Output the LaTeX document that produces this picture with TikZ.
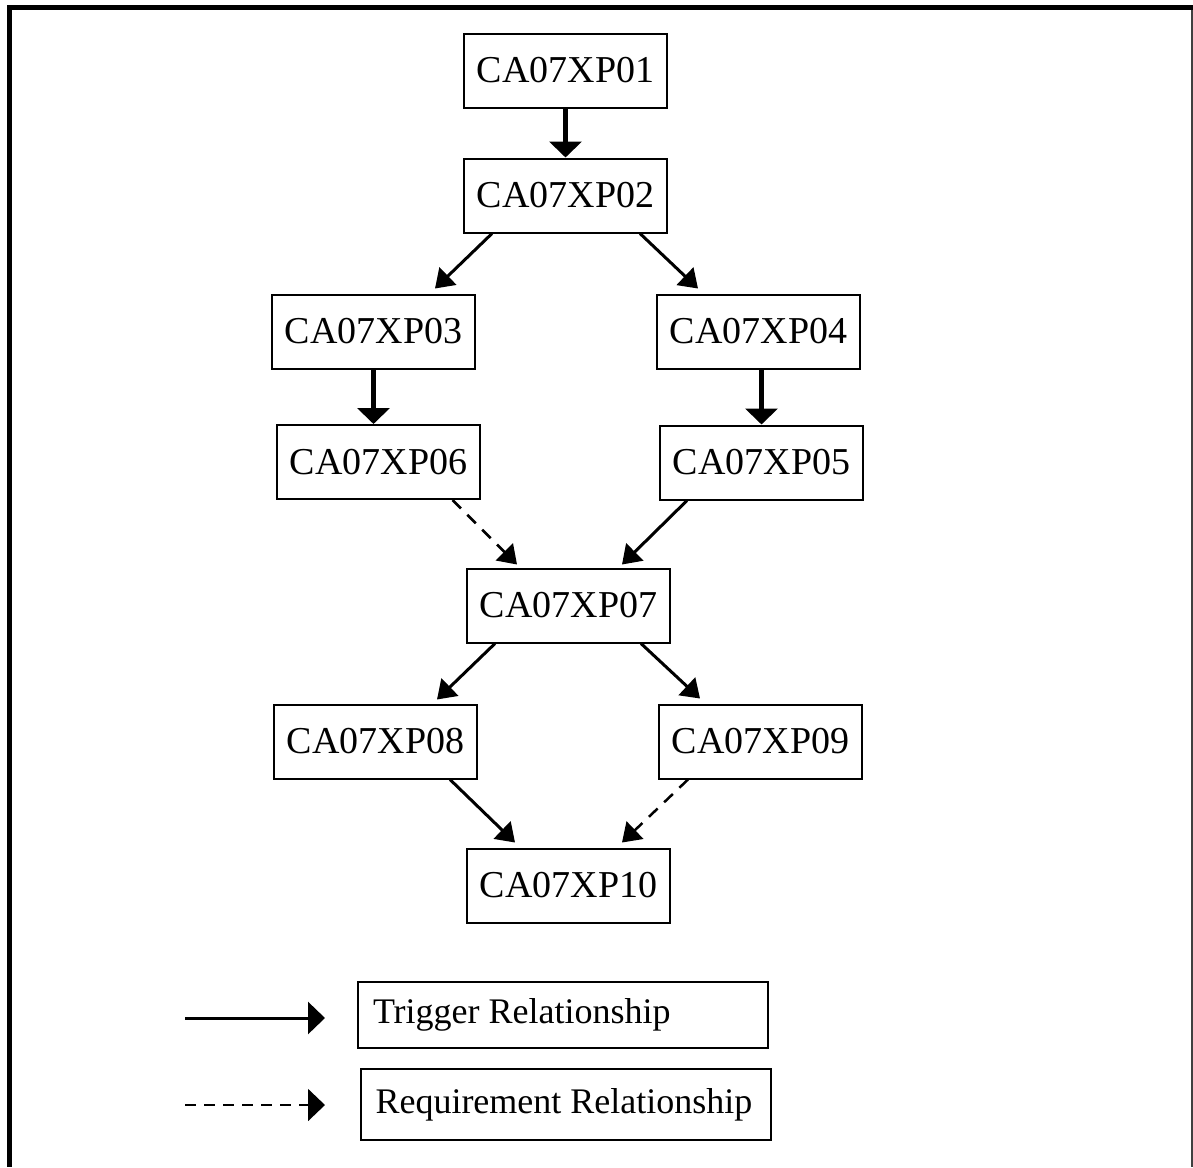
\documentclass[tikz,border=0pt]{standalone}
\usepackage{fontspec}
\setmainfont{Liberation Serif}
\usetikzlibrary{arrows.meta,calc}

\begin{document}
\begin{tikzpicture}[x=1pt, y=-1pt, line join=miter,
  >={Triangle[width=24pt,length=18pt]},
  proc/.style={draw, line width=2pt, minimum width=203pt, minimum height=74pt,
    inner sep=0pt, font=\fontsize{38}{40}\selectfont},
  legbox/.style={draw, line width=2pt, text width=380pt, align=flush left,
    inner xsep=15pt, inner ysep=0pt, font=\fontsize{36}{40}\selectfont},
  trig/.style={->, line width=3pt},
  trigv/.style={-{Triangle[width=32pt,length=16pt]}, line width=5pt},
  req/.style={->, line width=2.5pt, dash pattern=on 12pt off 9pt},
]

\useasboundingbox (0,0) rectangle (1193,1167);

% --- frame (bottom edge is cut off) ---
\draw[line width=5pt] (7,7.5) -- (1193,7.5);
\draw[line width=5pt] (9.5,5) -- (9.5,1167);
\draw[line width=1.5pt, black!75] (1192,10) -- (1192,1167);

% ------------------ processes ------------------
\node[proc] (p01) at (565.5,70.5)  {CA07XP01};
\node[proc] (p02) at (565.5,195.5) {CA07XP02};
\node[proc] (p03) at (373.5,331.5) {CA07XP03};
\node[proc] (p04) at (758.5,331.5) {CA07XP04};
\node[proc] (p06) at (378.5,462)   {CA07XP06};
\node[proc] (p05) at (761.5,462.5) {CA07XP05};
\node[proc] (p07) at (568.5,605.5) {CA07XP07};
\node[proc] (p08) at (375.5,741.5) {CA07XP08};
\node[proc] (p09) at (760.5,741.5) {CA07XP09};
\node[proc] (p10) at (568.5,885.5) {CA07XP10};

% trigger relationships
\draw[trigv] (p01) -- (p02);
\draw[trig] ([xshift=-73.5pt]p02.south) -- ([xshift=61.5pt,yshift=5pt]p03.north);
\draw[trig] ([xshift=74.5pt]p02.south) -- ([xshift=-60.5pt,yshift=5pt]p04.north);
\draw[trigv] (p03.south) -- (p03.south |- p06.north);
\draw[trigv] (p05.north |- p04.south) -- (p05.north);
\draw[trig] ([xshift=-74.5pt]p05.south) -- ([xshift=53.5pt,yshift=3pt]p07.north);
\draw[trig] ([xshift=-73.5pt]p07.south) -- ([xshift=61.5pt,yshift=4pt]p08.north);
\draw[trig] ([xshift=72.5pt]p07.south) -- ([xshift=-60.5pt,yshift=5pt]p09.north);
\draw[trig] ([xshift=74.5pt]p08.south) -- ([xshift=-53.5pt,yshift=5pt]p10.north);

% requirement relationships
\draw[req] ([xshift=74pt]p06.south) -- ([xshift=-51.5pt,yshift=3pt]p07.north);
\draw[req] ([xshift=-72.5pt]p09.south) -- ([xshift=53.5pt,yshift=5pt]p10.north);

% ------------------ legend ------------------
\coordinate (trigA) at (185,1018);
\coordinate (trigB) at (325,1018);
\coordinate (reqA) at (185,1105);
\coordinate (reqB) at (325,1105);
\draw[trig, -{Triangle[width=32pt,length=17pt]}] (trigA) -- (trigB);
\draw[req, line width=2pt, dash pattern=on 11pt off 8pt, -{Triangle[width=32pt,length=17pt]}] (reqA) -- (reqB);

\node[legbox, minimum height=66pt] (trigkey) at (563,1015)   {Trigger Relationship};
\node[legbox, minimum height=71pt] (reqkey)  at (565.5,1104.5) {Requirement Relationship};

\end{tikzpicture}
\end{document}
